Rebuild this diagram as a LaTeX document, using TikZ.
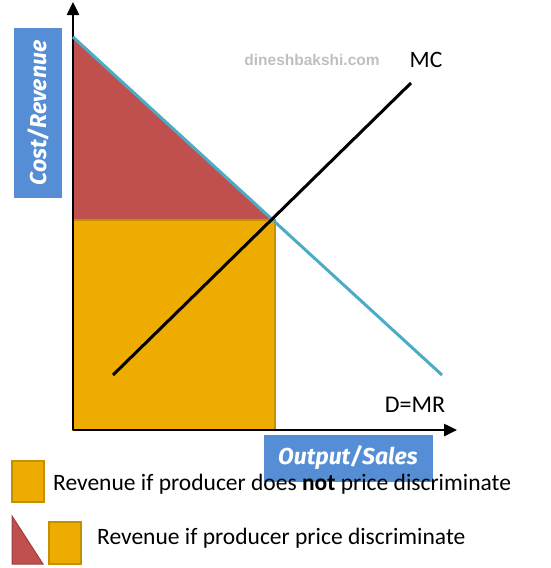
\documentclass[tikz,border=0pt]{standalone}
\usepackage{fontspec}
\setmainfont{Carlito}
\newfontfamily\labfont{Fira Sans}
\newfontfamily\wmfont{Liberation Sans}
\usetikzlibrary{arrows.meta}
\definecolor{redfill}{HTML}{C0504D}
\definecolor{orfill}{HTML}{EEAB00}
\definecolor{ordraw}{HTML}{C39000}
\definecolor{demand}{HTML}{4BACC6}
\definecolor{lblue}{HTML}{558ED5}
\tikzset{
  axis/.style={line width=2.5pt,-{Triangle[length=13pt,width=12pt]}},
  curve/.style={line width=3pt},
  lbox/.style={fill=lblue,text=white,font=\labfont\bfseries\itshape\fontsize{23}{23}\selectfont,inner sep=0pt,anchor=center},
  txt/.style={font=\fontsize{23.5}{23.5}\selectfont,inner sep=0pt},
  orbox/.style={fill=orfill,draw=ordraw,line width=1.5pt},
  redtri/.style={fill=redfill,draw=redfill!80!black,line width=1pt}
}
\begin{document}
\begin{tikzpicture}[x=1pt,y=-1pt]
\useasboundingbox (0,0) rectangle (550,568);
% regions
\coordinate (top) at (73,37);
\coordinate (eq) at (272,220);
\coordinate (eqL) at (73,220);
\fill[redfill] (top) -- (eq) -- (eqL) -- cycle;
\draw[orbox] (73,220) rectangle (275,430);
% axes
\coordinate (O) at (73,430);
\coordinate (Ytip) at (73,2);
\coordinate (Xtip) at (457,430);
\draw[axis] (O) -- (Ytip);
\draw[axis] (O) -- (Xtip);
% curves
\coordinate (d1) at (73,37);
\coordinate (d2) at (442,375);
\draw[demand,curve] (d1) -- (d2);
\coordinate (m1) at (113,375);
\coordinate (m2) at (411,83);
\draw[black,curve] (m1) -- (m2);
% labels
\node[txt,font=\fontsize{23.5}{23.5}\selectfont] (mc) at (426,60) {MC};
\node[txt,font=\fontsize{24}{24}\selectfont] (dmr) at (415,405) {D=MR};
\node[inner sep=0pt,text=black!25,font=\wmfont\bfseries\fontsize{15.5}{15.5}\selectfont] (wm) at (312,60) {dineshbakshi.com};
\node[lbox,minimum width=170pt,minimum height=48pt,rotate=90] (ylab) at (38,113) {Cost/Revenue};
\node[lbox,minimum width=169pt,minimum height=47pt] (xlab) at (348,458) {Output/Sales};
% legend
\draw[orbox] (12,461) rectangle (44,502);
\node[txt,anchor=west] (leg1) at (53,484) {Revenue if producer does \textbf{not} price discriminate};
\draw[redtri] (12,516) -- (43,564) -- (12,564) -- cycle;
\draw[orbox] (49,522) rectangle (81,564);
\node[txt,anchor=west] (leg2) at (97,538) {Revenue if producer price discriminate};
\end{tikzpicture}
\end{document}
